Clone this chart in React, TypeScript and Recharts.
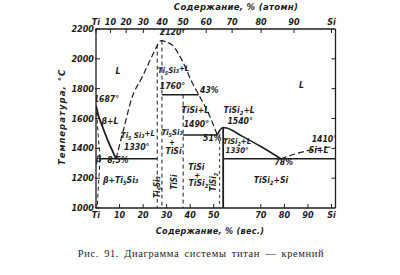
import React from 'react';
import { ComposedChart, Line, XAxis, YAxis, Scatter } from 'recharts';

const INK = '#1e1e1e';
const FONT = '"DejaVu Sans Condensed", "DejaVu Sans", sans-serif';
const SERIF = '"Liberation Serif", "DejaVu Serif", serif';

// molar masses used to place the atomic-% scale on the weight-% axis
const M_TI = 47.87;
const M_SI = 28.09;
const atomToWeight = (a: number) =>
  a <= 0 ? 0 : a >= 100 ? 100 : ((a * M_SI) / (a * M_SI + (100 - a) * M_TI)) * 100;

// ---- axes ----
const tempTicks = [1000, 1200, 1400, 1600, 1800, 2000, 2200];
const rightTempTicks = [1200, 1400, 1600, 1800, 2000];
const weightTicks = [0, 10, 20, 30, 40, 50, 70, 80, 90, 100];
const weightTickLabels = ['Ti', '10', '20', '30', '40', '50', '70', '80', '90', 'Si'];
const atomicTicks = [0, 10, 20, 30, 40, 50, 60, 70, 80, 90, 100];
const atomicTickLabels = ['Ti', '10', '20', '30', '40', '50', '60', '70', '80', '90', 'Si'];
const atomicTickPositions = atomicTicks.map(atomToWeight);

// ---- curves (w = wt.% Si, t = °C) ----
const tiLiquidus = [
  { w: 0, t: 1687 }, { w: 1, t: 1622 }, { w: 2.5, t: 1556 },
  { w: 4.6, t: 1469 }, { w: 6.8, t: 1389 }, { w: 8.5, t: 1330 },
];
const tiSolidus = [{ w: 0, t: 1687 }, { w: 1.7, t: 1330 }];
const tiSolvus = [{ w: 1.7, t: 1330 }, { w: 0.5, t: 1000 }];
const eutectic1330Left = [{ w: 1.7, t: 1330 }, { w: 26, t: 1330 }];
const ti5si3Liquidus = [
  { w: 8.5, t: 1330 }, { w: 12, t: 1545 }, { w: 15.2, t: 1737 }, { w: 19.4, t: 1871 },
  { w: 22.8, t: 1985 }, { w: 25.7, t: 2080 }, { w: 27, t: 2117 }, { w: 28, t: 2122 },
  { w: 29.5, t: 2115 }, { w: 32.5, t: 2090 }, { w: 36.7, t: 1985 }, { w: 40.5, t: 1851 },
  { w: 43.6, t: 1760 }, { w: 48.1, t: 1623 }, { w: 51.5, t: 1490 },
];
const ti5si3Left = [{ w: 26, t: 2095 }, { w: 26, t: 1000 }];
const ti5si3Right = [{ w: 28, t: 2122 }, { w: 28, t: 1000 }];
const peritectic1760 = [{ w: 28, t: 1760 }, { w: 43.6, t: 1760 }];
const tisiLine = [{ w: 37, t: 1760 }, { w: 37, t: 1000 }];
const eutectic1490 = [{ w: 37, t: 1490 }, { w: 51.5, t: 1490 }];
const tisi2Liquidus = [
  { w: 51.5, t: 1490 }, { w: 52.6, t: 1522 }, { w: 54, t: 1540 }, { w: 55.5, t: 1536 },
  { w: 62, t: 1482 }, { w: 70, t: 1412 }, { w: 78.5, t: 1330 },
];
const tisi2Line = [{ w: 54, t: 1540 }, { w: 54, t: 1000 }];
const tisi2Bound = [{ w: 52.5, t: 1490 }, { w: 52.5, t: 1000 }];
const eutectic1330Right = [{ w: 54, t: 1330 }, { w: 101.7, t: 1330 }];
const siLiquidus = [
  { w: 78.5, t: 1330 }, { w: 85, t: 1364 }, { w: 92, t: 1392 }, { w: 100, t: 1410 },
];

// ---- phase-field annotations ----
const phaseLabels = [
  { text: 'L', w: 9.3, t: 1898 },
  { text: 'L', w: 87.3, t: 1804 },
  { text: '1687°', w: 4.4, t: 1712 },
  { text: 'β+L', w: 5.9, t: 1563 },
  { text: 'Ti₅ Si₃+L', w: 17.8, t: 1469, small: true },
  { text: '1330°', w: 17.3, t: 1389 },
  { text: '8,5%', w: 9.3, t: 1302 },
  { text: 'β', w: 1.1, t: 1308 },
  { text: 'β+Ti₅Si₃', w: 10.5, t: 1168 },
  { text: '2120°', w: 32.5, t: 2160 },
  { text: 'Ti₅Si₃+L', w: 32.9, t: 1905, small: true },
  { text: '1760°', w: 32.5, t: 1798 },
  { text: '43%', w: 48.1, t: 1771 },
  { text: 'TiSi+L', w: 42.2, t: 1637 },
  { text: '1490°', w: 42.6, t: 1543 },
  { text: 'Ti₅Si₃', w: 32.3, t: 1490, small: true },
  { text: '+', w: 32.3, t: 1422, small: true },
  { text: 'TiSi', w: 32.9, t: 1364 },
  { text: 'Ti₅Si₃', w: 27, t: 1141, rot: true },
  { text: 'TiSi', w: 34.6, t: 1174, rot: true },
  { text: 'TiSi', w: 42.6, t: 1258 },
  { text: '+', w: 43, t: 1204, small: true },
  { text: 'TiSi₂', w: 43.5, t: 1146 },
  { text: 'TiSi₂', w: 51.1, t: 1174, rot: true },
  { text: 'TiSi₂+L', w: 60.8, t: 1637 },
  { text: '1540°', w: 61.2, t: 1563 },
  { text: '51%', w: 49.4, t: 1449 },
  { text: 'TiSi₂+L', w: 59.9, t: 1432, small: true },
  { text: '1330°', w: 59.9, t: 1366, small: true },
  { text: '1410°', w: 97, t: 1442 },
  { text: 'Si+L', w: 94.5, t: 1369 },
  { text: '78%', w: 79.7, t: 1288 },
  { text: 'TiSi₂+Si', w: 74.3, t: 1168 },
];

const textStyle = {
  fontFamily: FONT,
  fontStyle: 'italic' as const,
  fontWeight: 700,
  fill: INK,
};

const SUBS: Record<string, string> = { '₂': '2', '₃': '3', '₅': '5' };

// render unicode subscripts as small lowered tspans (as in the printed figure)
const rich = (s: string) => {
  const out: React.ReactNode[] = [];
  let buf = '';
  let lowered = false;
  let k = 0;
  const flush = () => {
    if (buf) {
      out.push(
        <tspan key={k++} dy={lowered ? -2 : 0}>
          {buf}
        </tspan>
      );
      lowered = false;
      buf = '';
    }
  };
  for (const ch of s) {
    if (SUBS[ch]) {
      const wasLowered = lowered;
      flush();
      out.push(
        <tspan key={k++} fontSize="0.68em" dy={wasLowered ? 0 : 2}>
          {SUBS[ch]}
        </tspan>
      );
      lowered = true;
    } else {
      buf += ch;
    }
  }
  flush();
  return out;
};

const PhaseLabel = (p: any) => {
  const { cx, cy, payload } = p;
  if (cx == null || cy == null) return null;
  const size = payload.rot ? 8 : payload.small ? 7.8 : 8.6;
  return (
    <text
      x={cx}
      y={cy}
      dy="0.35em"
      textAnchor="middle"
      fontSize={size}
      transform={payload.rot ? `rotate(-90 ${cx} ${cy})` : undefined}
      {...textStyle}
    >
      {rich(payload.text)}
    </text>
  );
};

const LeftTick = (p: any) => (
  <g>
    <line x1={p.x - 1} x2={p.x + 4} y1={p.y} y2={p.y} stroke={INK} strokeWidth={1} />
    <text x={p.x - 2} y={p.y} dy="0.35em" textAnchor="end" fontSize={9} {...textStyle}>
      {p.payload.value}
    </text>
  </g>
);

const RightTick = (p: any) => (
  <line x1={p.x - 4} x2={p.x} y1={p.y} y2={p.y} stroke={INK} strokeWidth={1} />
);

const BottomTick = (p: any) => (
  <g>
    <line x1={p.x} x2={p.x} y1={p.y - 4} y2={p.y} stroke={INK} strokeWidth={1} />
    <text x={p.x} y={p.y + 7} dy="0.35em" textAnchor="middle" fontSize={9} {...textStyle}>
      {weightTickLabels[p.index]}
    </text>
  </g>
);

const TopTick = (p: any) => (
  <g>
    <line x1={p.x} x2={p.x} y1={p.y} y2={p.y + 4} stroke={INK} strokeWidth={1} />
    <text x={p.x} y={p.y - 7.5} dy="0.35em" textAnchor="middle" fontSize={9} {...textStyle}>
      {atomicTickLabels[p.index]}
    </text>
  </g>
);

const curve = (
  key: string,
  data: { w: number; t: number }[],
  opts: { dash?: string; width?: number; smooth?: boolean } = {}
) => (
  <Line
    key={key}
    data={data}
    dataKey="t"
    xAxisId="b"
    yAxisId="l"
    type={opts.smooth ? 'monotone' : 'linear'}
    stroke={INK}
    strokeWidth={opts.width ?? 1.5}
    strokeDasharray={opts.dash}
    dot={false}
    activeDot={false}
    isAnimationActive={false}
  />
);

export default function App() {
  return (
    <div style={{ position: 'absolute', left: 0, top: 0, width: 400, height: 275, background: '#fff' }}>
      <ComposedChart width={400} height={275} margin={{ top: 0, right: 0, bottom: 0, left: 0 }}>
        <XAxis
          xAxisId="b"
          dataKey="w"
          type="number"
          orientation="bottom"
          domain={[0, 101.7]}
          allowDataOverflow
          ticks={weightTicks}
          interval={0}
          height={67}
          tickSize={0}
          tickMargin={0}
          tickLine={false}
          axisLine={{ stroke: INK, strokeWidth: 1.3 }}
          tick={BottomTick}
          label={() => (
            <text x={210} y={231} dy="0.35em" textAnchor="middle" fontSize={9} letterSpacing={0.3} {...textStyle}>
              Содержание, % (вес.)
            </text>
          )}
        />
        <XAxis
          xAxisId="t"
          dataKey="w"
          type="number"
          orientation="top"
          domain={[0, 101.7]}
          allowDataOverflow
          ticks={atomicTickPositions}
          interval={0}
          height={29}
          tickSize={0}
          tickMargin={0}
          tickLine={false}
          axisLine={{ stroke: INK, strokeWidth: 1.3 }}
          tick={TopTick}
          label={() => (
            <text x={236} y={7} dy="0.35em" textAnchor="middle" fontSize={9.5} letterSpacing={0.3} {...textStyle}>
              Содержание, % (атомн)
            </text>
          )}
        />
        <YAxis
          yAxisId="l"
          dataKey="t"
          type="number"
          orientation="left"
          domain={[1000, 2200]}
          allowDataOverflow
          ticks={tempTicks}
          interval={0}
          width={96}
          tickSize={0}
          tickMargin={0}
          tickLine={false}
          axisLine={{ stroke: INK, strokeWidth: 1.3 }}
          tick={LeftTick}
          label={() => (
            <text
              x={62}
              y={117}
              dy="0.35em"
              textAnchor="middle"
              fontSize={9.5}
              letterSpacing={1}
              transform="rotate(-90 62 117)"
              {...textStyle}
            >
              Температура, °С
            </text>
          )}
        />
        <YAxis
          yAxisId="r"
          type="number"
          orientation="right"
          domain={[1000, 2200]}
          allowDataOverflow
          ticks={rightTempTicks}
          interval={0}
          width={64.5}
          tickSize={0}
          tickMargin={0}
          tickLine={false}
          axisLine={{ stroke: INK, strokeWidth: 1.3 }}
          tick={RightTick}
        />

        {curve('tiLiq', tiLiquidus, { smooth: true, width: 1.8 })}
        {curve('tiSol', tiSolidus, { dash: '4 3', width: 1 })}
        {curve('tiSolv', tiSolvus, { dash: '4 3', width: 1 })}
        {curve('eut1', eutectic1330Left, { width: 1.5 })}
        {curve('t53liq', ti5si3Liquidus, { smooth: true, dash: '6 3', width: 1.2 })}
        {curve('t53l', ti5si3Left, { dash: '4 3', width: 1 })}
        {curve('t53r', ti5si3Right, { dash: '4 3', width: 1 })}
        {curve('per1760', peritectic1760, { width: 1.5 })}
        {curve('tisi', tisiLine, { dash: '4 3', width: 1 })}
        {curve('eut1490', eutectic1490, { width: 1.5 })}
        {curve('tisi2liq', tisi2Liquidus, { smooth: true, width: 1.6 })}
        {curve('tisi2', tisi2Line, { width: 1.8 })}
        {curve('tisi2b', tisi2Bound, { dash: '3 3', width: 0.9 })}
        {curve('eut2', eutectic1330Right, { width: 1.5 })}
        {curve('siliq', siLiquidus, { smooth: true, dash: '6 3', width: 1.2 })}

        <Scatter
          data={phaseLabels}
          xAxisId="b"
          yAxisId="l"
          shape={PhaseLabel}
          isAnimationActive={false}
        />
      </ComposedChart>
      <div
        style={{
          position: 'absolute',
          left: 0,
          top: 247,
          width: 402,
          textAlign: 'center',
          fontFamily: SERIF,
          fontSize: 10.5,
          letterSpacing: 0.6,
          wordSpacing: 2,
          color: INK,
          lineHeight: '14px',
        }}
      >
        Рис. 91. Диаграмма системы титан — кремний
      </div>
    </div>
  );
}
